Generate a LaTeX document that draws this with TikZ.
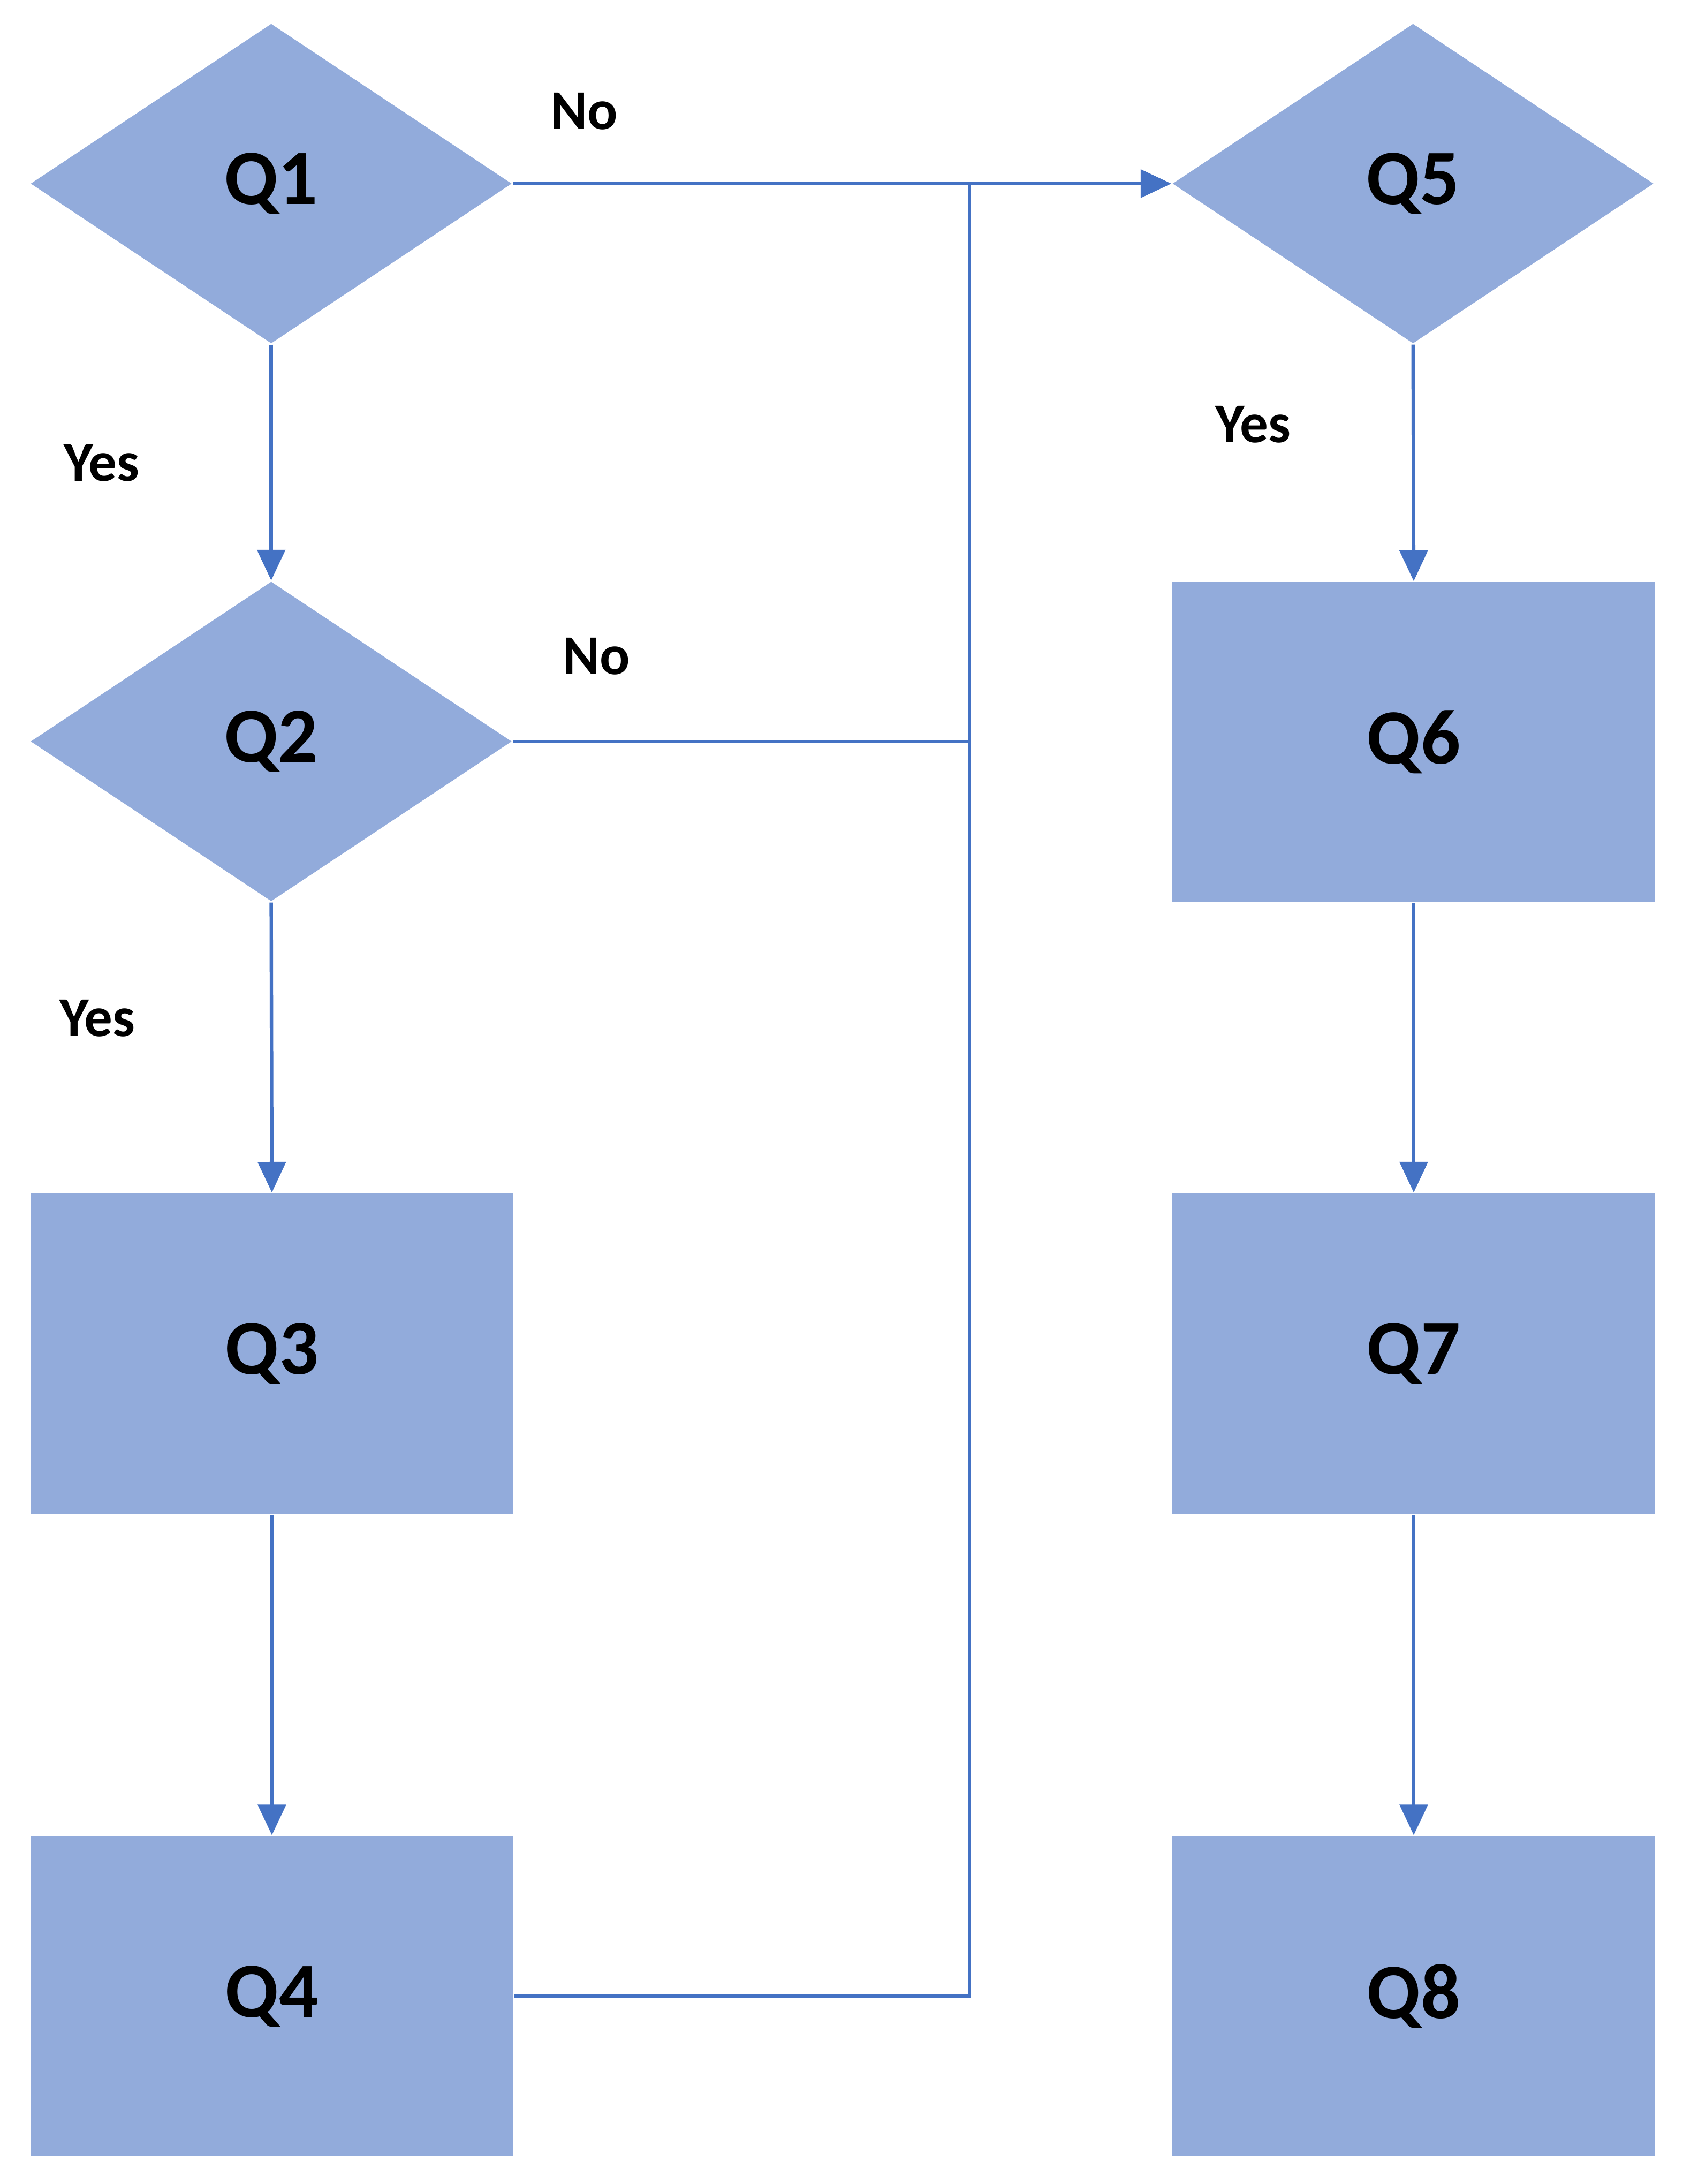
\documentclass[tikz,border=0pt]{standalone}
\usepackage{fontspec}
\setmainfont{Carlito}
\usetikzlibrary{shapes.geometric,arrows.meta}
\definecolor{boxfill}{HTML}{92ABDB}
\definecolor{linec}{HTML}{4472C4}
\begin{document}
\begin{tikzpicture}[x=0.01cm,y=-0.01cm,
  qtext/.style={font=\fontsize{16}{18}\selectfont\bfseries},
  dia/.style={diamond,fill=boxfill,aspect=1.504,minimum width=3.46cm,minimum height=2.3cm,inner sep=0pt,qtext},
  rbox/.style={rectangle,fill=boxfill,minimum width=3.47cm,minimum height=2.3cm,inner sep=0pt,qtext},
  conn/.style={draw=linec,line width=0.7pt},
  arr/.style={conn,-{Triangle[width=0.2cm,length=0.22cm]}},
  lbl/.style={font=\fontsize{11.5}{13}\selectfont\bfseries}]
\useasboundingbox (0,0) rectangle (1210,1570);
\node[dia] (q1) at (195,132) {Q1};
\node[dia] (q2) at (195,533) {Q2};
\node[rbox] (q3) at (195.5,973) {Q3};
\node[rbox] (q4) at (195.5,1435) {Q4};
\node[dia] (q5) at (1016,132) {Q5};
\node[rbox] (q6) at (1016.5,533.5) {Q6};
\node[rbox] (q7) at (1016.5,973) {Q7};
\node[rbox] (q8) at (1016.5,1435) {Q8};
\coordinate (j1) at (697,132);
\coordinate (j2) at (697,533);
\coordinate (j4) at (697,1435);
\draw[arr] (q1.south) -- (q2.north);
\draw[arr] (q2.south) -- (q3.north);
\draw[arr] (q3.south) -- (q4.north);
\draw[arr] (q5.south) -- (q6.north);
\draw[arr] (q6.south) -- (q7.north);
\draw[arr] (q7.south) -- (q8.north);
\draw[arr] (q1.east) -- (q5.west);
\draw[conn] (q2.east) -- (j2);
\draw[conn] (q4.east) -- (j4) -- (j1);
\node[lbl] (n1) at (420,80) {No};
\node[lbl] (n2) at (429,472) {No};
\node[lbl] (y1) at (73,333) {Yes};
\node[lbl] (y2) at (70,732) {Yes};
\node[lbl] (y5) at (901,305) {Yes};
\end{tikzpicture}
\end{document}
